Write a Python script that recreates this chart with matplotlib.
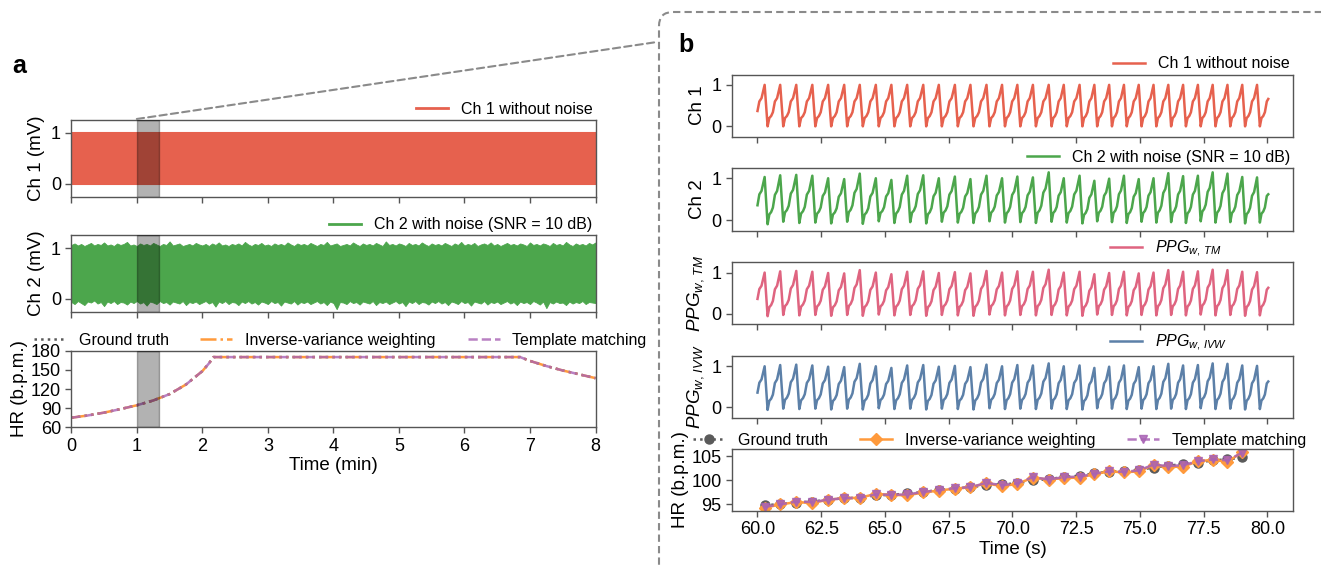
import numpy as np
import matplotlib.pyplot as plt
from matplotlib.patches import FancyBboxPatch, ConnectionPatch

plt.rcParams["font.family"] = ["Liberation Sans", "DejaVu Sans"]
plt.rcParams["mathtext.fontset"] = "custom"
plt.rcParams["mathtext.it"] = "Liberation Sans:italic"
plt.rcParams["mathtext.rm"] = "Liberation Sans"

# ---------------- panel a : 8-minute overview ----------------
band_time = [0.0, 8.0]
ch1_low = [0.0, 0.0]
ch1_high = [1.0, 1.0]

# envelope of the noisy channel (one value every 0.05 min)
ch2_upper = [1.06, 1.09, 1.05, 1.08, 1.04, 1.07, 1.10, 1.05, 1.08, 1.06, 1.11, 1.05, 1.07, 1.04, 1.09, 1.06, 1.08, 1.12, 1.05, 1.07,
             1.04, 1.09, 1.06, 1.08, 1.05, 1.10, 1.07, 1.04, 1.08, 1.06, 1.13, 1.05, 1.07, 1.09, 1.04, 1.06, 1.08, 1.05, 1.10, 1.07,
             1.05, 1.08, 1.04, 1.09, 1.06, 1.11, 1.05, 1.07, 1.04, 1.08, 1.06, 1.09, 1.05, 1.12, 1.07, 1.04, 1.08, 1.06, 1.10, 1.05,
             1.07, 1.04, 1.09, 1.06, 1.08, 1.05, 1.11, 1.07, 1.04, 1.09, 1.06, 1.08, 1.05, 1.10, 1.07, 1.04, 1.08, 1.06, 1.12, 1.05,
             1.07, 1.09, 1.04, 1.06, 1.08, 1.05, 1.11, 1.07, 1.04, 1.09, 1.06, 1.08, 1.05, 1.10, 1.07, 1.04, 1.13, 1.06, 1.08, 1.05,
             1.09, 1.07, 1.04, 1.10, 1.06, 1.08, 1.05, 1.11, 1.07, 1.04, 1.09, 1.06, 1.08, 1.05, 1.10, 1.07, 1.04, 1.09, 1.06, 1.12,
             1.05, 1.08, 1.06, 1.10, 1.04, 1.07, 1.09, 1.06, 1.11, 1.05, 1.08, 1.04, 1.07, 1.10, 1.06, 1.08, 1.05, 1.09, 1.07, 1.04,
             1.11, 1.06, 1.08, 1.05, 1.09, 1.07, 1.04, 1.10, 1.06, 1.08, 1.05, 1.12, 1.07, 1.04, 1.09, 1.06, 1.08, 1.05, 1.10, 1.07, 1.11]
ch2_lower = [-0.06, -0.10, -0.04, -0.08, -0.12, -0.05, -0.07, -0.03, -0.09, -0.06, -0.14, -0.05, -0.08, -0.04, -0.10, -0.06, -0.07, -0.11, -0.05, -0.08,
             -0.04, -0.09, -0.06, -0.13, -0.05, -0.07, -0.10, -0.04, -0.08, -0.06, -0.11, -0.05, -0.07, -0.09, -0.04, -0.12, -0.06, -0.08, -0.05, -0.10,
             -0.07, -0.04, -0.09, -0.06, -0.15, -0.05, -0.08, -0.04, -0.10, -0.06, -0.07, -0.12, -0.05, -0.08, -0.04, -0.09, -0.06, -0.11, -0.05, -0.07,
             -0.10, -0.04, -0.08, -0.06, -0.13, -0.05, -0.07, -0.09, -0.04, -0.11, -0.06, -0.08, -0.05, -0.10, -0.07, -0.04, -0.09, -0.06, -0.12, -0.05,
             -0.08, -0.20, -0.06, -0.07, -0.10, -0.04, -0.08, -0.06, -0.11, -0.05, -0.07, -0.09, -0.04, -0.12, -0.06, -0.08, -0.05, -0.10, -0.07, -0.04,
             -0.09, -0.06, -0.14, -0.05, -0.08, -0.04, -0.10, -0.06, -0.07, -0.11, -0.05, -0.08, -0.04, -0.09, -0.06, -0.12, -0.05, -0.07, -0.10, -0.04,
             -0.08, -0.06, -0.13, -0.05, -0.07, -0.09, -0.04, -0.11, -0.06, -0.08, -0.05, -0.10, -0.07, -0.04, -0.09, -0.06, -0.12, -0.05, -0.08, -0.06,
             -0.10, -0.04, -0.07, -0.11, -0.05, -0.18, -0.06, -0.09, -0.05, -0.08, -0.07, -0.12, -0.05, -0.09, -0.06, -0.08, -0.04, -0.10, -0.06, -0.07, -0.08]

hr_time_min = [0, 0.25, 0.5, 0.75, 1.0, 1.25, 1.5, 1.75, 2.0, 2.1, 2.17, 6.85, 7.0, 7.25, 7.5, 7.75, 8.0]
hr_truth_a = [75, 78.5, 83, 88.5, 94.5, 102, 112, 127, 148, 160, 170, 170, 164, 156, 149, 143, 137]
hr_ivw_a = [75, 78.5, 83, 88.5, 94.5, 102, 112, 127, 148, 160, 170, 170, 164, 156, 149, 143, 137]
hr_tm_a = [75, 78.5, 83, 88.5, 94.5, 102, 112, 127, 148, 160, 170, 170, 164, 156, 149, 143, 137]

zoom_window = [1.0, 4 / 3]  # minutes shown in panel b

# ---------------- panel b : 20-second zoom ----------------
peak_times = [60.28, 60.89, 61.52, 62.15, 62.77, 63.40, 64.01, 64.64, 65.25, 65.87, 66.50, 67.11,
              67.74, 68.35, 68.98, 69.59, 70.19, 70.80, 71.42, 72.01, 72.63, 73.21, 73.79, 74.37,
              74.95, 75.53, 76.11, 76.69, 77.27, 77.85, 78.43, 79.01, 79.59]

# one pulse, from a peak (phase 0) to the next peak (phase 1)
beat_phase = [0.0, 0.19, 0.30, 0.42, 0.53, 0.66, 0.80, 1.0]
beat_shape = [1.0, 0.0, 0.20, 0.25, 0.34, 0.60, 0.68, 1.0]

ch1_peaks = [1.0] * 33
ch1_troughs = [0.0] * 33
ch2_peaks = [1.03, 1.07, 1.08, 1.06, 1.00, 0.98, 1.11, 1.00, 0.96, 1.06, 1.07, 1.00, 1.04, 0.98, 1.06,
             1.00, 1.04, 1.02, 1.14, 1.00, 1.06, 0.94, 0.99, 1.06, 0.98, 1.00, 1.12, 1.05, 1.06, 1.14,
             1.11, 1.03, 1.02]
ch2_troughs = [-0.09, -0.03, -0.06, -0.05, -0.07, -0.03, -0.08, -0.02, -0.06, -0.04, -0.07, -0.03,
               -0.05, -0.06, -0.02, -0.05, -0.04, -0.06, -0.03, -0.05, -0.07, -0.02, -0.04, -0.06,
               -0.03, -0.05, -0.04, -0.06, -0.02, -0.05, -0.04, -0.07, -0.05]
tm_peaks = [1.00, 1.03, 1.04, 1.02, 0.99, 0.98, 1.06, 1.00, 0.96, 1.02, 1.03, 0.99, 1.01, 0.98, 1.04,
            1.00, 1.03, 1.02, 1.07, 1.00, 1.02, 0.96, 0.99, 1.02, 0.98, 1.00, 1.06, 1.02, 1.03, 1.07,
            1.06, 1.02, 1.01]
tm_troughs = [-0.06, -0.03, -0.04, -0.03, -0.05, -0.03, -0.05, -0.02, -0.04, -0.03, -0.05, -0.03,
              -0.04, -0.05, -0.02, -0.04, -0.03, -0.04, -0.03, -0.04, -0.05, -0.02, -0.03, -0.04,
              -0.03, -0.04, -0.03, -0.04, -0.02, -0.04, -0.03, -0.05, -0.04]
ivw_peaks = [1.00, 1.03, 1.04, 1.02, 0.99, 0.98, 1.06, 1.00, 0.96, 1.02, 1.03, 0.99, 1.01, 0.98, 1.04,
             1.00, 1.03, 1.02, 1.07, 1.00, 1.02, 0.96, 0.99, 1.02, 0.98, 1.00, 1.06, 1.02, 1.03, 1.07,
             1.06, 1.02, 1.01]
ivw_troughs = [-0.06, -0.03, -0.04, -0.03, -0.05, -0.03, -0.05, -0.02, -0.04, -0.03, -0.05, -0.03,
               -0.04, -0.05, -0.02, -0.04, -0.03, -0.04, -0.03, -0.04, -0.05, -0.02, -0.03, -0.04,
               -0.03, -0.04, -0.03, -0.04, -0.02, -0.04, -0.03, -0.05, -0.04]
wave_start = {"ch1": 0.37, "ch2": 0.36, "tm": 0.36, "ivw": 0.36}
wave_end = {"ch1": 0.66, "ch2": 0.62, "tm": 0.63, "ivw": 0.63}
t_start, t_end = 60.0, 80.03

hr_times_b = peak_times[:-1]
hr_truth_b = [94.8, 95.1, 95.4, 95.6, 96.0, 96.3, 96.4, 96.9, 97.0, 97.3, 97.6, 98.0, 98.3, 98.6, 99.0,
              99.2, 99.4, 100.0, 100.3, 100.7, 101.0, 101.5, 101.8, 102.0, 102.2, 102.7, 103.1, 103.4,
              103.7, 104.2, 104.4, 104.8]
hr_ivw_b = [94.3, 95.0, 95.5, 95.3, 96.0, 96.3, 96.4, 97.2, 97.0, 96.9, 97.5, 97.9, 98.3, 98.6, 99.4,
            98.8, 99.3, 100.6, 100.2, 100.5, 100.6, 101.3, 101.9, 101.7, 101.9, 103.2, 102.8, 102.9,
            104.0, 104.3, 103.9, 105.9]
hr_tm_b = [94.5, 95.0, 95.6, 95.5, 96.0, 96.3, 96.4, 97.1, 97.0, 97.1, 97.6, 98.0, 98.4, 98.6, 99.5,
           99.0, 99.4, 100.7, 100.2, 100.7, 100.8, 101.4, 101.9, 101.8, 102.1, 103.3, 103.0, 103.2,
           104.0, 104.4, 104.2, 105.8]

RED = "#E6614E"
GREEN = "#4CA64C"
PINK = "#DF6480"
BLUE = "#5C80A8"
ORANGE = "#FF9A3C"
PURPLE = "#A862B4"
GT_GRAY = "#5a5a5a"
SPINE = "#555555"


def build_wave(peaks, peak_amp, trough_amp, v0, v1):
    """Chain the pulse shape between the read peak times."""
    trough_ph = beat_phase[1]
    ts, vs = [t_start], [v0]
    # rising part before the first peak
    P = peaks[1] - peaks[0]
    for ph, s in zip(beat_phase, beat_shape):
        tt = peaks[0] - (1 - ph) * P
        if ph > trough_ph and tt > t_start:
            ts.append(tt)
            vs.append(peak_amp[0] * s)
    for k in range(len(peaks)):
        if k < len(peaks) - 1:
            P = peaks[k + 1] - peaks[k]
            nxt = peak_amp[k + 1]
        else:
            nxt = None
        for ph, s in zip(beat_phase[:-1], beat_shape[:-1]):
            tt = peaks[k] + ph * P
            if tt >= t_end:
                break
            lo = trough_amp[k]
            hi = peak_amp[k] if ph <= trough_ph else (nxt if nxt is not None else 1.0)
            ts.append(tt)
            vs.append(lo + (hi - lo) * s)
    ts.append(t_end)
    vs.append(v1)
    return ts, vs


def style_axes(ax):
    for sp in ax.spines.values():
        sp.set_color(SPINE)
        sp.set_linewidth(1.0)
    ax.tick_params(direction="out", length=4, width=1, color=SPINE, labelsize=13)


def top_legend(ax, **kw):
    opts = dict(loc="lower right", bbox_to_anchor=(1.0, 1.0), frameon=False, fontsize=11.5,
                borderaxespad=0.0, borderpad=0.2, handlelength=2.0)
    opts.update(kw)
    return ax.legend(**opts)


fig = plt.figure(figsize=(13.21, 5.68), dpi=100)
W, H = 1321.0, 568.0


def add_axes_px(left, top, right, bottom):
    return fig.add_axes([left / W, 1 - bottom / H, (right - left) / W, (bottom - top) / H])


# ---------------- panel a ----------------
a1 = add_axes_px(71.3, 120, 595.5, 196.7)
a2 = add_axes_px(71.3, 235.3, 595.5, 311.7)
a3 = add_axes_px(71.3, 350.7, 595.5, 427.3)

a1.fill_between(band_time, ch1_low, ch1_high, color=RED, lw=1.5)
a1.plot([], [], color=RED, lw=2, label="Ch 1 without noise")
a2.fill_between(np.linspace(0, 8, len(ch2_upper)), 0.5, ch2_upper, color=GREEN, lw=0.6)
a2.fill_between(np.linspace(0, 8, len(ch2_lower)), ch2_lower, 0.5, color=GREEN, lw=0.6)
a2.plot([], [], color=GREEN, lw=2, label="Ch 2 with noise (SNR = 10 dB)")

a3.plot(hr_time_min, hr_truth_a, ls=":", color=GT_GRAY, lw=1.8, label="Ground truth")
a3.plot(hr_time_min, hr_ivw_a, ls="-.", color=ORANGE, lw=1.8, label="Inverse-variance weighting")
a3.plot(hr_time_min, hr_tm_a, ls="--", color=PURPLE, lw=1.8, alpha=0.8, label="Template matching")

for ax in (a1, a2, a3):
    ax.axvspan(zoom_window[0], zoom_window[1], color="black", alpha=0.3, lw=1, zorder=3)
    ax.set_xlim(0, 8)
    ax.set_xticks(range(0, 9))
    style_axes(ax)
for ax in (a1, a2):
    ax.set_ylim(-0.25, 1.25)
    ax.set_yticks([0, 1])
    ax.tick_params(labelbottom=False)
a1.set_ylabel("Ch 1 (mV)", fontsize=13.5)
a2.set_ylabel("Ch 2 (mV)", fontsize=13.5)
a3.set_ylim(60, 180)
a3.set_yticks([60, 90, 120, 150, 180])
a3.set_ylabel("HR (b.p.m.)", fontsize=13.5, labelpad=2)
a3.set_xlabel("Time (min)", fontsize=13.5, labelpad=2)
top_legend(a1)
top_legend(a2)
a3.legend(loc="lower center", bbox_to_anchor=(0.513, 1.0), ncol=3, frameon=False, fontsize=11.5,
          borderaxespad=0.0, borderpad=0.2, columnspacing=2.0, handlelength=2.0)

fig.text(19.3 / W, 1 - 66 / H, "a", fontsize=18, fontweight="bold", ha="center", va="center")

# ---------------- panel b ----------------
b_boxes = [(74.5, 136.7), (167.7, 231), (262.3, 324), (356, 417.7), (449.3, 510.7)]
b_axes = [add_axes_px(732, t, 1293, b) for t, b in b_boxes]

series = [
    ("ch1", ch1_peaks, ch1_troughs, RED, "Ch 1 without noise", "Ch 1"),
    ("ch2", ch2_peaks, ch2_troughs, GREEN, "Ch 2 with noise (SNR = 10 dB)", "Ch 2"),
    ("tm", tm_peaks, tm_troughs, PINK, r"$PPG_{w,\,TM}$", r"$PPG_{w,\,TM}$"),
    ("ivw", ivw_peaks, ivw_troughs, BLUE, r"$PPG_{w,\,IVW}$", r"$PPG_{w,\,IVW}$"),
]
for ax, (key, pk, tr, col, lab, ylab) in zip(b_axes[:4], series):
    t, v = build_wave(peak_times, pk, tr, wave_start[key], wave_end[key])
    ax.plot(t, v, color=col, lw=1.8, label=lab)
    ax.set_ylim(-0.25, 1.25)
    ax.set_yticks([0, 1])
    ax.set_ylabel(ylab, fontsize=13.5)
    ax.tick_params(labelbottom=False)
    if key in ("tm", "ivw"):
        top_legend(ax, loc="lower left", bbox_to_anchor=(0.668, 1.0))
    else:
        top_legend(ax)

hb = b_axes[4]
hb.plot(hr_times_b, hr_truth_b, ls=":", color=GT_GRAY, lw=1.8, marker="o", ms=6.5,
        label="Ground truth")
hb.plot(hr_times_b, hr_ivw_b, ls="-", color=ORANGE, lw=1.8, marker="D", ms=6,
        label="Inverse-variance weighting")
hb.plot(hr_times_b, hr_tm_b, ls="--", color=PURPLE, lw=1.8, marker="v", ms=5.5, alpha=0.85,
        label="Template matching")
hb.set_ylim(93.7, 106.5)
hb.set_yticks([95, 100, 105])
hb.set_ylabel("HR (b.p.m.)", fontsize=13.5, labelpad=2)
hb.set_xlabel("Time (s)", fontsize=13.5, labelpad=2)
hb.legend(loc="lower center", bbox_to_anchor=(0.477, 0.97), ncol=3, frameon=False, fontsize=11.5,
          borderaxespad=0.0, borderpad=0.2, columnspacing=2.0, handlelength=2.0)

for ax in b_axes:
    ax.set_xlim(59, 81)
    ax.set_xticks(np.arange(60, 80.1, 2.5))
    style_axes(ax)
hb.set_xticklabels([f"{x:.1f}" for x in np.arange(60, 80.1, 2.5)])

fig.text(686 / W, 1 - 45 / H, "b", fontsize=18, fontweight="bold", ha="center", va="center")

# dashed frame round panel b and the zoom connector
frame = FancyBboxPatch((6.59, -0.5), 7.5, 5.56 + 0.5,
                       boxstyle="round,pad=0,rounding_size=0.14",
                       transform=fig.dpi_scale_trans, fill=False, ec="#8a8a8a",
                       ls=(0, (3.5, 2)), lw=1.5)
fig.add_artist(frame)
con = ConnectionPatch(xyA=(zoom_window[0], 1.27), coordsA=a1.transData,
                      xyB=(6.57, 5.26), coordsB=fig.dpi_scale_trans,
                      color="#8a8a8a", ls=(0, (3.5, 2)), lw=1.5)
fig.add_artist(con)

fig.savefig("out.png", dpi=100)
